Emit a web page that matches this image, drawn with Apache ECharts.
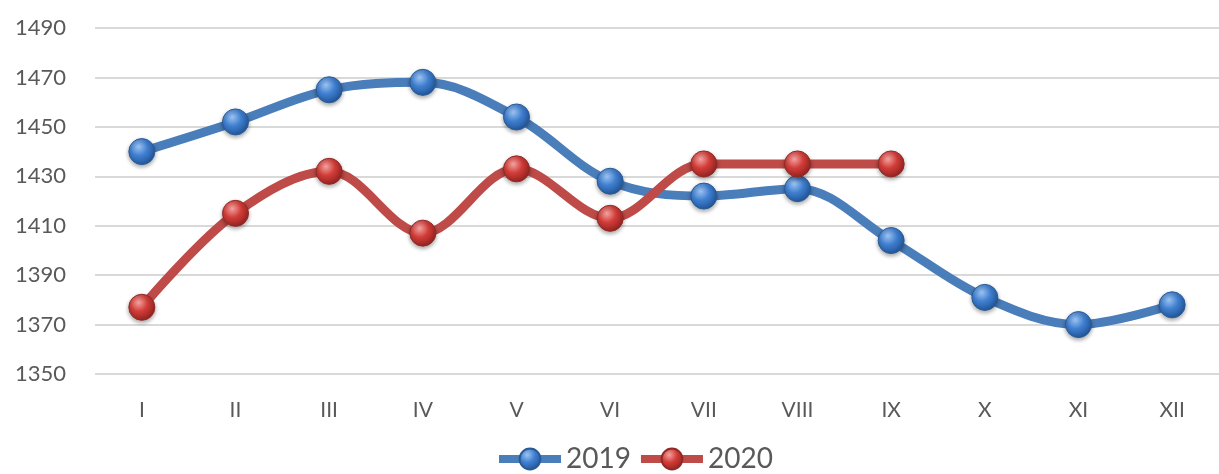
<!DOCTYPE html>
<html>
<head>
<meta charset="utf-8">
<script src="https://cdn.jsdelivr.net/npm/echarts@6/dist/echarts.min.js"></script>
<style>
  html, body { margin: 0; padding: 0; background: #fff; }
  #chart { width: 1219px; height: 474px; }
</style>
</head>
<body>
<div id="chart"></div>
<script>
// months in roman numerals
const months = ['I', 'II', 'III', 'IV', 'V', 'VI', 'VII', 'VIII', 'IX', 'X', 'XI', 'XII'];
const values2019 = [1440, 1452, 1465, 1468, 1454, 1428, 1422, 1425, 1404, 1381, 1370, 1378];
const values2020 = [1377, 1415, 1432, 1407, 1433, 1413, 1435, 1435, 1435];
const seriesNames = ['2019', '2020'];

function ball(light, mid, dark) {
  return {
    type: 'radial', x: 0.38, y: 0.32, r: 0.75,
    colorStops: [
      { offset: 0, color: light },
      { offset: 0.45, color: mid },
      { offset: 1, color: dark }
    ]
  };
}

function makeSeries(name, data, lineColor, markerFill, border) {
  return {
    name: name,
    type: 'line',
    data: data,
    smooth: 0.35,
    symbol: 'circle',
    symbolSize: 26,
    lineStyle: {
      color: lineColor,
      width: 9
    },
    itemStyle: {
      color: markerFill,
      borderColor: border, borderWidth: 1,
      shadowColor: 'rgba(0,0,0,0.35)', shadowBlur: 4, shadowOffsetY: 2
    },
    emphasis: { disabled: true },
    z: name === '2020' ? 3 : 2
  };
}

const chart = echarts.init(document.getElementById('chart'));
chart.setOption({
  animation: false,
  textStyle: { fontFamily: 'Lato, "Open Sans", sans-serif' },
  grid: { left: 95, top: 28, width: 1130, height: 346 },
  legend: {
    bottom: -4,
    left: 490,
    itemWidth: 62,
    itemHeight: 26,
    itemGap: 6,
    lineStyle: { width: 8 },
    textStyle: { color: '#595959', fontSize: 28 },
    data: seriesNames
  },
  xAxis: {
    type: 'category',
    data: months,
    boundaryGap: true,
    axisLine: { show: false },
    axisTick: { show: false },
    axisLabel: { color: '#595959', fontSize: 21, margin: 26 }
  },
  yAxis: {
    type: 'value',
    min: 1350,
    max: 1490,
    interval: 20,
    axisLine: { show: false },
    axisTick: { show: false },
    axisLabel: { color: '#595959', fontSize: 22, margin: 29, formatter: v => String(v) },
    splitLine: { lineStyle: { color: '#d9d9d9', width: 2 } }
  },
  series: [
    makeSeries(seriesNames[0], values2019, '#4a7ebb', ball('#9cc3f0', '#3f7fd0', '#1d4f8f'), '#2a5a96'),
    makeSeries(seriesNames[1], values2020, '#be4b48', ball('#f2a3a0', '#d23c38', '#8a1f1c'), '#8f2a27')
  ]
});
</script>
</body>
</html>
